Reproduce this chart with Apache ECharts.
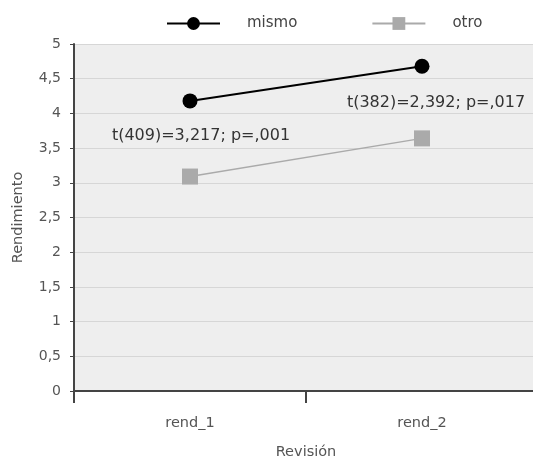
<!DOCTYPE html>
<html><head><meta charset="utf-8">
<script src="https://cdn.jsdelivr.net/npm/echarts@6/dist/echarts.min.js"></script>
<style>html,body{margin:0;padding:0;background:#fff}#c{width:533px;height:456px}</style>
</head><body><div id="c"></div>
<script>
const categories = ['rend_1', 'rend_2'];
const seriesNames = ['mismo', 'otro'];
const mismo = [4.18, 4.68];
const otro = [3.09, 3.64];
const yTicks = ['0','0,5','1','1,5','2','2,5','3','3,5','4','4,5','5'];
const annotations = ['t(409)=3,217; p=,001', 't(382)=2,392; p=,017'];

const chart = echarts.init(document.getElementById('c'));
const font = 'DejaVu Sans, sans-serif';
chart.setOption({
  animation: false,
  textStyle: {fontFamily: font},
  legend: {
    top: 11, left: 161, itemGap: 74, itemWidth: 53, itemHeight: 16,
    textStyle: {fontSize: 15, color: '#444', padding: [0,0,0,22], fontFamily: font},
    data: seriesNames
  },
  grid: {left: 74, width: 464, top: 44, bottom: 65, outerBoundsMode: 'none', containLabel: false,
    show: true, backgroundColor: '#eeeeee', borderWidth: 0},
  xAxis: {
    type: 'category', data: categories, boundaryGap: true,
    name: 'Revisión', nameLocation: 'middle', nameGap: 54,
    nameTextStyle: {fontSize: 14.5, color: '#555', fontFamily: font},
    axisLine: {lineStyle: {color: '#444', width: 2}},
    axisTick: {show: true, length: 12, lineStyle: {color: '#444', width: 2}},
    axisLabel: {margin: 25, fontSize: 14.5, color: '#555', fontFamily: font}
  },
  yAxis: {
    type: 'value', min: 0, max: 5, interval: 0.5,
    name: 'Rendimiento', nameLocation: 'middle', nameGap: 48, nameRotate: 90,
    nameTextStyle: {fontSize: 14.5, color: '#555', fontFamily: font},
    axisLine: {show: true, lineStyle: {color: '#444', width: 2}},
    axisTick: {show: true, length: 4, lineStyle: {color: '#444'}},
    axisLabel: {margin: 13, fontSize: 14, color: '#555', fontFamily: font,
      formatter: v => yTicks[Math.round(v*2)]},
    splitLine: {show: true, lineStyle: {color: '#d6d6d6', width: 1}}
  },
  series: [
    {
      name: seriesNames[0], type: 'line', data: mismo.map((v,i)=>({
        value: v,
        label: {show: true, position: 'bottom', offset: i===0 ? [11, 14] : [14, 16],
          formatter: annotations[i], fontSize: 16, color: '#333', fontFamily: font}
      })),
      symbol: 'circle', symbolSize: 15,
      itemStyle: {color: '#000'}, lineStyle: {color: '#000', width: 2}
    },
    {
      name: seriesNames[1], type: 'line', data: otro,
      symbol: 'rect', symbolSize: 16,
      itemStyle: {color: '#aaaaaa'}, lineStyle: {color: '#aaaaaa', width: 1.5}
    }
  ]
});
</script></body></html>
